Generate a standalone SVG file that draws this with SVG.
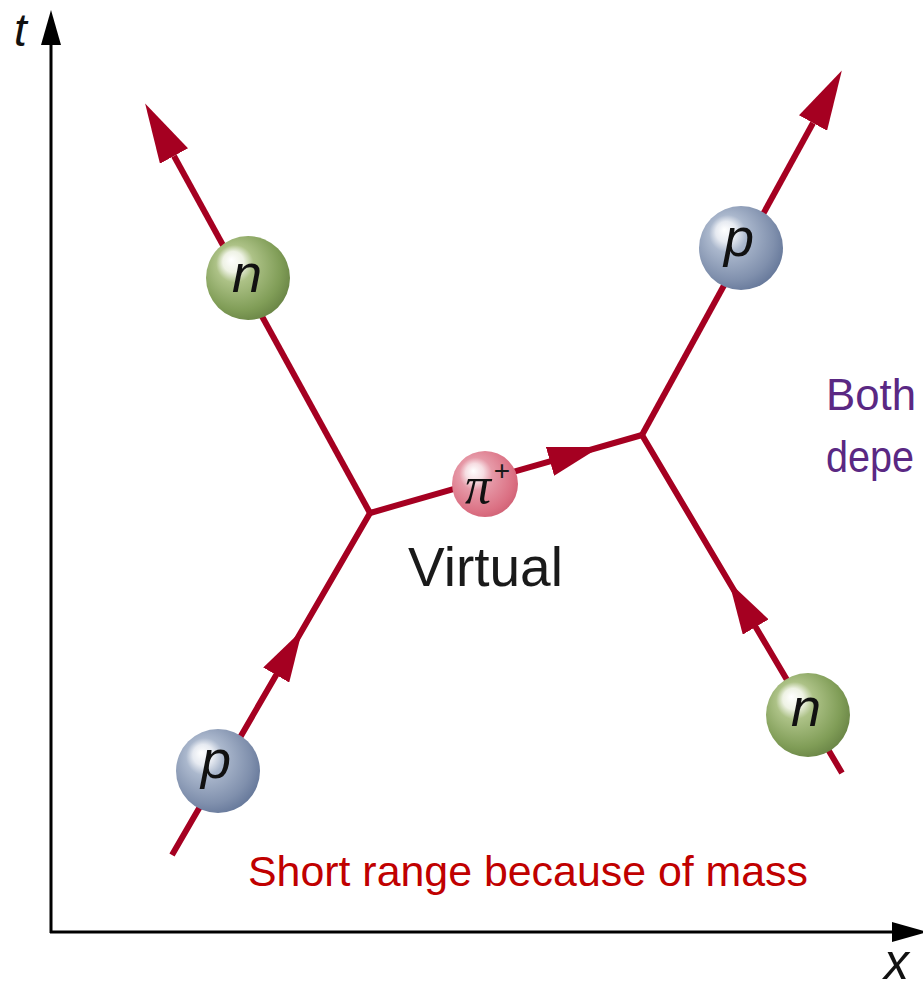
<svg xmlns="http://www.w3.org/2000/svg" width="923" height="993" viewBox="0 0 923 993">
  <defs>
    <style>
      .axis { stroke: #000; stroke-width: 3; fill: none; }
      .track { stroke: #a50021; stroke-width: 6; fill: none; stroke-linejoin: round; }
      .sym { font-family: "Liberation Sans", Arial, sans-serif; font-style: italic; fill: #111; }
      .pi { font-family: "Liberation Serif", "Times New Roman", serif; font-style: italic; fill: #111; }
      .lbl { font-family: "Liberation Sans", Arial, sans-serif; fill: #1a1a1a; }
      .note { font-family: "Liberation Sans", Arial, sans-serif; }
    </style>
    <!-- arrowhead placed at the free end of a track (base sits on the path end) -->
    <marker id="endHead" viewBox="0 0 60 32" refX="0" refY="16" markerWidth="60" markerHeight="32" markerUnits="userSpaceOnUse" orient="auto">
      <path d="M0,0 L60,16 L0,32 Z" fill="#a50021"/>
    </marker>
    <!-- arrowhead placed midway along a track (base sits on the middle vertex) -->
    <marker id="midHead" viewBox="0 0 52 30" refX="0" refY="15" markerWidth="52" markerHeight="30" markerUnits="userSpaceOnUse" orient="auto">
      <path d="M0,0 L52,15 L0,30 Z" fill="#a50021"/>
    </marker>
    <radialGradient id="gN" cx="0.42" cy="0.42" r="0.62" fx="0.3" fy="0.28">
      <stop offset="0" stop-color="#ffffff"/>
      <stop offset="0.2" stop-color="#eef2e4"/>
      <stop offset="0.36" stop-color="#adc287"/>
      <stop offset="0.8" stop-color="#809d57"/>
      <stop offset="1" stop-color="#6a8546"/>
    </radialGradient>
    <radialGradient id="gP" cx="0.42" cy="0.42" r="0.62" fx="0.3" fy="0.28">
      <stop offset="0" stop-color="#ffffff"/>
      <stop offset="0.2" stop-color="#e6eaf1"/>
      <stop offset="0.36" stop-color="#abb8cd"/>
      <stop offset="0.8" stop-color="#8090ad"/>
      <stop offset="1" stop-color="#66789a"/>
    </radialGradient>
    <radialGradient id="gPi" cx="0.42" cy="0.42" r="0.62" fx="0.32" fy="0.3">
      <stop offset="0" stop-color="#ffffff"/>
      <stop offset="0.22" stop-color="#f6dde2"/>
      <stop offset="0.4" stop-color="#e69aa8"/>
      <stop offset="0.85" stop-color="#db7083"/>
      <stop offset="1" stop-color="#d16276"/>
    </radialGradient>
  </defs>

  <rect width="923" height="993" fill="#ffffff"/>

  <!-- space-time axes -->
  <g id="axes">
    <line class="axis" x1="51" y1="44" x2="51" y2="933"/>
    <polygon points="51,10 41,45 61,45" fill="#000"/>
    <line class="axis" x1="50" y1="932" x2="893" y2="932"/>
    <polygon points="927,932 892,922 892,942" fill="#000"/>
    <text class="sym" x="14" y="46" font-size="46">t</text>
    <text class="sym" x="884" y="979" font-size="50">x</text>
  </g>

  <!-- particle world-lines -->
  <g id="connectors">
    <path class="track" d="M370,513 L174,156" marker-end="url(#endHead)"/>
    <path class="track" d="M642,435 L813,123" marker-end="url(#endHead)"/>
    <path class="track" d="M172,855 L276.2,675 L370,513" marker-mid="url(#midHead)"/>
    <path class="track" d="M842,773 L755.7,627 L642,435" marker-mid="url(#midHead)"/>
    <path class="track" d="M370,513 L550,461.3 L642,435" marker-mid="url(#midHead)"/>
  </g>

  <g id="neutron-out">
    <circle cx="248" cy="278" r="42" fill="url(#gN)"/>
    <text class="sym" x="247" y="292" font-size="54" text-anchor="middle">n</text>
  </g>

  <g id="proton-out">
    <circle cx="741" cy="248" r="42" fill="url(#gP)"/>
    <text class="sym" x="739" y="256" font-size="54" text-anchor="middle">p</text>
  </g>

  <g id="proton-in">
    <circle cx="218" cy="771" r="42" fill="url(#gP)"/>
    <text class="sym" x="216" y="778" font-size="54" text-anchor="middle">p</text>
  </g>

  <g id="neutron-in">
    <circle cx="808" cy="715" r="42" fill="url(#gN)"/>
    <text class="sym" x="806" y="726" font-size="54" text-anchor="middle">n</text>
  </g>

  <g id="pion">
    <circle cx="485" cy="484" r="33" fill="url(#gPi)"/>
    <text class="pi" x="478" y="503" font-size="52" text-anchor="middle">π</text>
    <text class="lbl" x="502" y="480" font-size="28" text-anchor="middle">+</text>
    <text class="lbl" x="408" y="586" font-size="55">Virtual</text>
  </g>

  <g id="notes">
    <text class="note" x="826" y="410" font-size="44" fill="#5a2883" textLength="90" lengthAdjust="spacingAndGlyphs">Both</text>
    <text class="note" x="826" y="472" font-size="44" fill="#5a2883" textLength="88" lengthAdjust="spacingAndGlyphs">depe</text>
    <text class="note" x="248" y="886" font-size="43" fill="#c00000" textLength="560" lengthAdjust="spacingAndGlyphs">Short range because of mass</text>
  </g>
</svg>
